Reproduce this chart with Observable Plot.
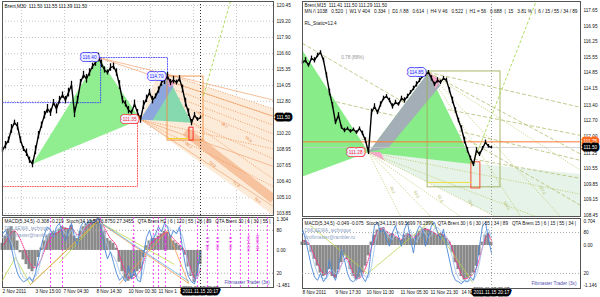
<!DOCTYPE html>
<html><head><meta charset="utf-8">
<script src="https://cdn.jsdelivr.net/npm/d3@7"></script>
<script src="https://cdn.jsdelivr.net/npm/@observablehq/plot@0.6"></script>
<style>
body{margin:0;background:#fff;}
#wrap{position:relative;width:600px;height:297px;overflow:hidden;background:#fff;}
</style></head><body><div id="wrap"></div>
<script>
// ---------------- DATA ----------------
// Left chart: Brent M30 (bar index, price)
const leftClose = [108.9,109.3,109.7,110.6,111.1,110.8,109.7,109.0,108.7,108.1,
 107.8,108.9,110.1,110.9,111.7,112.2,111.9,112.7,112.2,112.9,
 113.3,112.9,113.5,114.1,111.9,112.9,114.3,114.9,114.6,115.1,
 115.6,115.9,116.3,115.8,115.3,115.1,115.5,115.6,115.1,114.1,
 112.9,112.6,112.1,111.9,112.6,111.9,111.35,112.5,113.0,113.5,
 112.9,113.2,113.7,114.3,114.5,114.8,114.3,114.5,114.3,114.6,
 113.8,112.7,111.9,111.1,111.7,111.35,111.5];
const leftRange = [0.2,0.3,0.25,0.35,0.2,0.3,0.25,0.2,0.3,0.25,0.3,0.35,0.3,0.25,0.3,0.35,0.3,0.25,0.4,0.3,
 0.25,0.3,0.35,0.3,0.4,0.3,0.25,0.3,0.35,0.3,0.25,0.3,0.35,0.3,0.25,0.2,0.3,0.25,0.3,0.35,
 0.3,0.25,0.3,0.2,0.3,0.25,0.3,0.35,0.3,0.25,0.3,0.2,0.25,0.3,0.35,0.3,0.25,0.3,0.2,0.25,
 0.3,0.35,0.3,0.25,0.2,0.15,0.1];
const leftHist = [0.3,0.6,0.9,1.0,0.8,0.4,-0.1,-0.4,-0.6,-0.8,-0.9,-0.7,-0.3,0.1,0.4,0.6,
 0.7,0.8,0.75,0.9,1.0,0.95,0.9,1.05,0.6,0.5,0.8,1.0,1.1,1.2,1.25,1.3,1.35,
 1.1,0.8,0.5,0.4,0.3,0.1,-0.5,-0.9,-1.2,-1.3,-1.2,-1.1,-0.9,-0.8,
 -0.3,0.2,0.4,0.5,0.5,0.6,0.7,0.8,0.75,0.6,0.4,0.3,0.2,0.1,-0.2,-0.7,-1.1,-1.35,-1.1,-0.6];
const leftSignal = [0.2,0.35,0.55,0.75,0.85,0.7,0.45,0.15,-0.2,-0.5,-0.7,-0.75,-0.6,-0.35,0.0,0.3,0.5,0.65,0.72,0.8,
 0.9,0.93,0.92,0.98,0.8,0.65,0.7,0.85,1.0,1.1,1.18,1.25,1.3,1.2,0.95,0.7,0.5,0.38,0.2,-0.2,
 -0.6,-0.95,-1.15,-1.2,-1.15,-1.0,-0.85,-0.5,-0.1,0.2,0.4,0.48,0.55,0.65,0.75,0.75,0.65,0.5,0.35,0.25,
 0.12,-0.1,-0.45,-0.85,-1.2,-1.15,-0.8];
const leftStoch = [75,80,70,55,35,20,12,8,10,15,8,20,40,60,75,85,80,70,85,90,75,65,80,90,70,60,85,92,88,95,
 90,93,97,80,55,40,50,35,20,10,15,8,30,12,25,10,8,45,70,80,65,75,85,78,90,85,70,80,75,85,55,30,15,8,5,25,50];
const leftStochSig = [70,74,72,63,50,35,22,14,11,12,11,15,25,42,58,72,80,77,78,84,82,75,73,80,78,70,72,82,88,90,
 92,92,94,90,75,58,48,44,35,22,15,12,18,17,22,16,12,22,45,65,72,73,78,80,83,86,82,78,77,80,72,52,32,18,10,14,30];
const leftTicks = [120.45,119.20,117.90,116.60,115.35,114.05,112.80,110.20,108.95,107.65,106.40,105.10,103.85];
const leftGridX = [6.3,20.7,35,49.3,63.7,78];
const leftMacdTicks = [1.304,0,-1.481];
const stochTicks = [80,20];
const leftDates = [{i:0,t:"2 Nov 2011"},{i:11,t:"3 Nov 15:00"},{i:20.3,t:"7 Nov 04:30"},{i:31.3,t:"8 Nov 14:30"},{i:42,t:"10 Nov 00:30"},{i:52,t:"11 Nov 1"}];
const leftHeader = "Brent,M30  111.50 111.55 111.39 111.50";
const leftMacdHeader = "MACD(5,34,5) -0.308 -0.219  Stoch(34,13,5) 76.8750 27.3455   QTA Brent H2 | 6 | 120 | 55 | 26 | 89   QTA Brent 30 | 6 | 30 | 55 |";
// pattern points
const leftXAB = [{i:10,p:107.8},{i:32,p:116.3},{i:46,p:111.35}];
const leftBCD = [{i:46,p:111.35},{i:55,p:114.8},{i:63,p:111.1}];
const leftBCv = [{i:46,p:111.35},{i:55,p:114.8},{i:57,p:114.0},{i:50,p:111.3}];
const leftCpink = [{i:55,p:114.8},{i:57.5,p:114.2},{i:55.5,p:113.9}];
const leftTags = [{i:32,p:116.3,t:"116.40",dx:-2,c:"#2828ff"},{i:55,p:114.8,t:"114.70",dx:-4,c:"#2828ff"},{i:46,p:111.35,t:"111.35",dx:-4,c:"#ff2828"}];
const leftBlueProj1 = [{i:32,p:116.3},{i:55,p:116.3},{i:55,p:114.8}];
const leftBlueProj2 = [{i:0,p:112.7},{i:32.7,p:112.7},{i:32.7,p:116.3}];
const leftRedProj = [{i:0,p:106.0},{i:45,p:106.0},{i:45,p:111.2}];
const leftFanSolid = [{i1:32,p1:116.3,i2:90.33,p2:112.9},{i1:32,p1:116.3,i2:90.33,p2:111.6},
 {i1:46,p1:111.35,i2:90.33,p2:104.4},{i1:46,p1:111.35,i2:90.33,p2:107.6}];
const leftFanDotted = [{i1:52,p1:115.2,i2:90.33,p2:112.2},{i1:53,p1:114.6,i2:90.33,p2:111.6},{i1:54,p1:114.0,i2:90.33,p2:110.9},
 {i1:55,p1:113.4,i2:90.33,p2:110.2},{i1:56,p1:112.8,i2:90.33,p2:109.5},{i1:46,p1:111.35,i2:90.33,p2:106.0},
 {i1:46,p1:111.35,i2:90.33,p2:109.0},{i1:63,p1:111.1,i2:90.33,p2:106.6},{i1:63,p1:111.1,i2:90.33,p2:108.2}];
const leftBand = [{i1:61,p1:110.4,i2:90.33,p2:105.0}];
const leftPale = [{i:52,p:115.2},{i:90.33,p:112.2},{i:90.33,p:103.7},{i:46,p:111.35}];
const leftFibText = [{i:62,p:109.3,t:"38.2"},{i:70,p:107.8,t:"50.0"},{i:78,p:106.2,t:"61.8"},{i:85,p:104.9,t:"78.6"},
 {i:66,p:111.8,t:"23.6"},{i:74,p:110.9,t:"38.2"},{i:82,p:109.8,t:"50.0"}];
const leftOrangeBox = [{i1:55,i2:67,p1:109.67,p2:114.78}];
const leftRedBox = [{i1:62.3,i2:63.7,p1:109.67,p2:110.7}];
const leftYellow = [{i1:55,p1:109.83,i2:62,p2:109.83}];
const leftGreenRise = [{i1:67,p1:113.27,i2:76,p2:120.8}];
const leftMagenta = [16,20,32.7,43.7,50.3,52,54.3,59.3,65,68.3,71.7,76,79.3,82,85,88.3];
const leftMagLabels = [{i:43.7,t:"H1 1.0"},{i:54.3,t:"H1 2000"},{i:68.3,t:"H1 1.5"},{i:71.7,t:"H4 1.6"},{i:76,t:"H4 1.0"},{i:82,t:"H1 1.5%"},{i:85,t:"H4 2000"}];
const leftZzGreen = [{i:0,s:10},{i:4.3,s:42},{i:9.3,s:4},{i:31.7,s:93},{i:57,s:33}];
const leftZzGreen2 = [{i:19,s:35},{i:31.7,s:93}];
const leftZzOrange1 = [{i:9.3,s:4},{i:31.7,s:93},{i:62,s:6}];
const leftZzOrange2 = [{i:39,s:5},{i:55,s:80},{i:62,s:6}];
const leftZzBlue = [{i:32.3,s:92},{i:62,s:9}];

// Right chart: Brent M15
const rightClose = [115.32,115.41,115.18,115.50,115.41,115.63,115.76,115.41,114.73,113.97,
 113.39,112.62,112.94,112.40,112.26,112.35,112.22,112.31,112.17,112.35,
 112.13,111.81,111.28,113.07,113.34,113.07,113.43,113.70,113.79,113.61,
 113.34,113.52,113.43,113.70,113.61,113.79,113.97,114.15,114.33,114.51,
 114.69,114.78,114.87,114.60,114.33,114.51,114.42,114.60,114.51,114.06,
 113.61,113.16,112.71,112.35,111.81,111.37,111.01,110.74,111.37,111.19,
 111.46,111.73,111.55,111.50];
const rightRange = [0.1,0.12,0.08,0.1,0.12,0.1,0.08,0.1,0.12,0.15,0.12,0.1,0.12,0.08,0.1,0.06,0.08,0.06,0.08,0.07,
 0.1,0.12,0.1,0.15,0.12,0.1,0.12,0.1,0.08,0.1,0.12,0.1,0.08,0.1,0.12,0.1,0.08,0.1,0.12,0.1,
 0.08,0.1,0.08,0.12,0.1,0.12,0.1,0.08,0.1,0.12,0.15,0.12,0.1,0.12,0.15,0.12,0.1,0.1,0.12,0.1,
 0.08,0.1,0.08,0.06];
const rightHist = [0.1,0.15,0.05,-0.2,-0.4,-0.6,-0.8,-0.9,-0.85,-0.7,-0.9,-0.95,-0.7,-0.5,-0.3,
 -0.4,-0.7,-0.9,-1.0,-0.95,-0.8,-0.6,-0.3,0.1,0.3,0.45,0.5,0.52,0.4,0.3,0.35,0.25,0.2,
 0.15,0.3,0.35,0.3,0.2,0.3,0.4,0.45,0.5,0.45,0.4,0.35,0.3,0.35,0.3,0.2,0.1,
 -0.2,-0.5,-0.7,-0.9,-1.0,-0.95,-0.9,-0.8,-0.6,-0.3,0.1,0.3,0.35,0.1];
const rightSignal = [0.15,0.12,0.08,-0.1,-0.3,-0.5,-0.7,-0.82,-0.85,-0.75,-0.85,-0.9,-0.75,-0.55,-0.38,-0.38,-0.6,-0.82,-0.95,-0.95,
 -0.85,-0.65,-0.4,-0.05,0.22,0.4,0.48,0.5,0.42,0.32,0.33,0.27,0.22,0.17,0.26,0.33,0.3,0.22,0.28,0.37,
 0.43,0.48,0.46,0.41,0.36,0.31,0.33,0.31,0.22,0.12,-0.1,-0.4,-0.62,-0.85,-0.97,-0.95,-0.9,-0.82,-0.65,-0.38,
 -0.05,0.22,0.32,0.15];
const rightStoch = [85,70,50,30,15,10,20,8,15,40,20,10,30,55,40,20,10,8,12,30,15,8,20,60,90,95,80,85,70,60,
 80,90,75,60,85,95,70,50,80,90,85,60,75,90,95,80,70,85,60,40,20,10,8,5,10,8,15,10,30,60,90,95,70,50];
const rightStochSig = [80,78,68,50,33,20,15,13,12,22,25,20,20,32,42,38,25,14,10,15,19,16,14,30,58,80,88,86,80,72,
 70,78,82,75,72,80,84,72,66,75,85,78,72,76,86,88,82,78,74,62,42,24,13,8,8,8,10,11,18,35,60,82,85,72];
const rightTicks = [117.65,116.95,116.25,115.55,114.85,114.15,113.40,112.70,112.00,111.25,110.55,109.85,109.15,108.45];
const rightLevel = 111.75;
const rightMacdTicks = [0.704,0,-1.146];
const rightDates = [{i:0,t:"8 Nov 2011"},{i:11,t:"9 Nov 17:30"},{i:21.3,t:"10 Nov 11:30"},{i:32.7,t:"11 Nov 05:30"},{i:42.7,t:"11 Nov 21:30"},{i:53,t:"14 N"}];
const rightHeader1 = "Brent,M15  111.41 111.50 111.29 111.50";
const rightHeader2 = "MN /\\ 1038   0.520  |  W1 V 404   0.334  |  D1 /\\ 88   0.614  |  H4 V 46   0.522  |  H1 = 56   0.688  |  15   3.81 %  |  6 / 15 / 55 / 34 / 89";
const rightStatic = "RL_Static=12.4";
const rightMacdHeader = "MACD(5,34,5) -0.049 -0.075  Stoch(34,13,5) 69.5699 76.2899   QTA Brent 30 | 6 | 30 | 55 | 34 | 89   QTA Brent 15 | 6 | 15 | 55 | 34 |";
const rightTri1 = [{i:0,p:115.85},{i:22,p:111.28},{i:0,p:110.2}];
const rightTri2 = [{i:22,p:111.28},{i:42,p:114.87},{i:57,p:110.74}];
const rightGrey = [{i:22,p:111.28},{i:28.7,p:111.5},{i:46,p:114.28},{i:42,p:114.87}];
const rightPinkB = [{i:22,p:111.28},{i:27.3,p:110.92},{i:26,p:111.3}];
const rightPinkC = [{i:42,p:114.87},{i:46,p:114.51},{i:44.3,p:114.15}];
const rightTags = [{i:42,p:114.87,t:"114.85",dx:-5,c:"#2828ff"},{i:22,p:111.28,t:"111.28",dx:-6,c:"#ff2828"}];
const rightFanDash = [{i1:0,p1:116.17,i2:92.7,p2:108.9},{i1:0,p1:112.35,i2:92.7,p2:110.11},{i1:9.3,p1:113.61,i2:92.7,p2:110.92},
 {i1:32.7,p1:113.61,i2:92.7,p2:112.04},{i1:42,p1:114.87,i2:92.7,p2:113.3},{i1:42,p1:114.87,i2:92.7,p2:111.2}];
const rightFanDot = [{i1:22,p1:111.28,i2:32.7,p2:108.4},{i1:22,p1:111.28,i2:42.7,p2:108.4},{i1:22,p1:111.28,i2:52.7,p2:108.4},
 {i1:22,p1:111.28,i2:64.3,p2:108.4},{i1:22,p1:111.28,i2:77.7,p2:108.4},{i1:22,p1:111.28,i2:92.7,p2:109.4},
 {i1:42,p1:114.87,i2:72.7,p2:108.4},{i1:42,p1:114.87,i2:86,p2:108.4},{i1:42,p1:114.87,i2:92.7,p2:110.47}];
const rightPale = [{i:22,p:111.28},{i:92.7,p:110.3},{i:92.7,p:108.4},{i:64.3,p:108.4}];
const rightFibText = [{i:30,p:109.6,t:"38.2"},{i:38,p:109.4,t:"50.0"},{i:46,p:109.2,t:"61.8"},{i:56,p:109.0,t:"78.6"},{i:68,p:108.9,t:"100.0"},{i:80,p:109.6,t:"127.2"}];
const rightRatio = [{i:16.7,p:115.54,t:"0.78 (88%)"}];
const rightOliveBox = [{i1:41.7,i2:66,p1:109.71,p2:114.91}];
const rightRedBox = [{i1:56.3,i2:59.3,p1:109.66,p2:110.83}];
const rightYellow = [{i1:41.7,p1:109.93,i2:56.3,p2:109.93}];
const rightGreenRise = [{i1:56.7,p1:110.74,i2:78,p2:118.1}];
const rightZz = [{i:2.7,s:90},{i:21.7,s:20},{i:42.7,s:97},{i:56.7,s:7}];

const timeNow = "2011.11.15 20:17";
const credit1 = "DML&EWA_technique";
const credit2 = "profitmaster@rambler.ru";
const trader = "Fibmaster Trader (3x)";

// ---------------- RENDER ----------------
const FONT = "'Liberation Sans', Arial, sans-serif";
const wrap = document.getElementById("wrap");
function mk(opts, left, top) {
  const svg = Plot.plot({...opts, style:{background:"transparent", overflow:"visible", fontFamily:FONT, fontSize:"5px", color:"#111"}});
  svg.style.position = "absolute"; svg.style.left = left+"px"; svg.style.top = top+"px";
  wrap.appendChild(svg);
}
const idx = a => a.map((v,i)=>({i,v}));
const bars = (c,r) => c.map((v,i)=>({i,v,r:r[i]}));
const L = {x1:"i1",y1:"p1",x2:"i2",y2:"p2"};
const P = {x:"i",y:"p"};
const FS = 4.7;

function tagLayer(tags){
  return tags.flatMap(t=>[
    Plot.text([t],{...P,text:"t",dx:t.dx,textAnchor:"end",fontSize:FS,fill:t.c,stroke:t.c,strokeWidth:6.2,strokeLinejoin:"miter",strokeMiterlimit:1,paintOrder:"stroke"}),
    Plot.text([t],{...P,text:"t",dx:t.dx,textAnchor:"end",fontSize:FS,fill:t.c,stroke:"#eef0ff",strokeWidth:4.6,strokeLinejoin:"miter",strokeMiterlimit:1,paintOrder:"stroke"})
  ]);
}
const priceBars = (c,r) => [
  Plot.ruleX(bars(c,r),{x:"i",y1:d=>d.v-d.r,y2:d=>d.v+d.r,stroke:"#000",strokeWidth:1.3}),
  Plot.line(idx(c),{x:"i",y:"v",stroke:"#000",strokeWidth:1.4})
];

// ---- Left price ----
const LXD=[0,90.33];
mk({width:300,height:216,marginLeft:2,marginRight:27,marginTop:1,marginBottom:1,
 x:{domain:LXD,axis:null}, y:{domain:[103.69,120.77],axis:null},
 marks:[
  Plot.ruleY(leftTicks,{stroke:"#c4c4c4",strokeDasharray:"1,2"}),
  Plot.ruleX(leftGridX,{stroke:"#c4c4c4",strokeDasharray:"1,2"}),
  Plot.line(leftPale,{...P,fill:"#fdebd9",stroke:"none",clip:true}),
  Plot.link(leftBand,{...L,stroke:"#f6c39e",strokeWidth:9,strokeLinecap:"butt",clip:true}),
  Plot.link(leftFanSolid,{...L,stroke:"#f3ae80",strokeWidth:0.8,clip:true}),
  Plot.link(leftFanDotted,{...L,stroke:"#ef8a45",strokeWidth:0.8,strokeDasharray:"1,1.5",clip:true}),
  Plot.text(leftFibText,{...P,text:"t",rotate:40,fill:"#e5813a",fontSize:3.8}),
  Plot.line(leftXAB,{...P,fill:"#90ee90",stroke:"none"}),
  Plot.line(leftBCD,{...P,fill:"#86d8ae",stroke:"none"}),
  Plot.line(leftBCv,{...P,fill:"#8e9fe6",fillOpacity:0.85,stroke:"none"}),
  Plot.line(leftCpink,{...P,fill:"#f2a3c6",stroke:"none"}),
  Plot.line(leftBlueProj1,{...P,stroke:"#3030ff",strokeWidth:0.8,strokeDasharray:"1,1.5"}),
  Plot.line(leftBlueProj2,{...P,stroke:"#3030ff",strokeWidth:0.8,strokeDasharray:"1,1.5"}),
  Plot.line(leftRedProj,{...P,stroke:"#ff3030",strokeWidth:0.8,strokeDasharray:"1,1.5"}),
  Plot.rect(leftOrangeBox,{x1:"i1",x2:"i2",y1:"p1",y2:"p2",stroke:"#f09040",fill:"none",strokeWidth:0.9}),
  Plot.rect(leftRedBox,{x1:"i1",x2:"i2",y1:"p1",y2:"p2",stroke:"#ff2020",fill:"none",strokeWidth:0.9}),
  Plot.link(leftYellow,{...L,stroke:"#f2d21e",strokeWidth:1}),
  Plot.link(leftGreenRise,{...L,stroke:"#a5d84a",strokeWidth:0.9,strokeDasharray:"3,2",clip:true}),
  ...priceBars(leftClose,leftRange),
  Plot.ruleX([leftClose.length-1],{stroke:"#333",strokeDasharray:"1,2"}),
  ...tagLayer(leftTags),
  Plot.text(leftTicks,{y:d=>d,text:d=>d.toFixed(2),frameAnchor:"right",dx:3,textAnchor:"start",fontSize:FS,fill:"#111"}),
  Plot.text([leftClose[leftClose.length-1]],{y:d=>d,text:d=>d.toFixed(2),frameAnchor:"right",dx:3,textAnchor:"start",fontSize:FS,fill:"#fff",stroke:"#000",strokeWidth:5,strokeLinejoin:"miter",strokeMiterlimit:1}),
  Plot.frame({stroke:"#555"}),
  Plot.text([leftHeader],{frameAnchor:"top-left",dx:2,dy:3,text:d=>d,fontSize:FS,fill:"#111",lineAnchor:"top"})
 ]},0,0);

// ---- Left MACD ----
const LMY=[-1.565,1.39];
mk({width:300,height:82,marginLeft:2,marginRight:27,marginTop:2,marginBottom:10,
 x:{domain:LXD,axis:null}, y:{domain:LMY,axis:null},
 marks:[
  Plot.rect(idx(leftHist),{x1:d=>d.i-0.5,x2:d=>d.i+0.5,y1:d=>0,y2:"v",fill:"#8a8a8a"}),
  Plot.line(idx(leftSignal),{x:"i",y:"v",stroke:"#ff2a8a",strokeWidth:1,strokeDasharray:"1,1.3"}),
  Plot.text(leftMacdTicks,{y:d=>d,text:d=>d===0?"0.00":d.toFixed(3),frameAnchor:"right",dx:3,textAnchor:"start",fontSize:FS,fill:"#111"}),
  Plot.text(leftDates,{x:"i",text:"t",frameAnchor:"bottom",dy:5.5,textAnchor:"start",fontSize:FS,fill:"#111"}),
  Plot.text([timeNow],{x:()=>leftClose.length-1,text:d=>d,frameAnchor:"bottom",dy:5.5,fontSize:FS,fill:"#fff",stroke:"#000",strokeWidth:5,strokeLinejoin:"miter",strokeMiterlimit:1}),
  Plot.frame({stroke:"#555"})
 ]},0,215);
// stoch overlay
mk({width:300,height:82,marginLeft:2,marginRight:27,marginTop:2,marginBottom:10,
 x:{domain:LXD,axis:null}, y:{domain:[0,98],axis:null},
 marks:[
  Plot.ruleY(stochTicks,{stroke:"#aaa",strokeDasharray:"1,2"}),
  Plot.ruleX(leftMagenta,{stroke:"#f020f0",strokeWidth:0.8,strokeDasharray:"2,2"}),
  Plot.line(leftZzGreen,{x:"i",y:"s",stroke:"#b9d64a",strokeWidth:0.8}),
  Plot.line(leftZzGreen2,{x:"i",y:"s",stroke:"#b9d64a",strokeWidth:0.8}),
  Plot.line(leftZzOrange1,{x:"i",y:"s",stroke:"#f39a4c",strokeWidth:0.8}),
  Plot.line(leftZzOrange2,{x:"i",y:"s",stroke:"#f39a4c",strokeWidth:0.8}),
  Plot.line(leftZzBlue,{x:"i",y:"s",stroke:"#5fb0e8",strokeWidth:0.8}),
  Plot.line(idx(leftStochSig),{x:"i",y:"v",stroke:"#a8c8ec",strokeWidth:0.9}),
  Plot.line(idx(leftStoch),{x:"i",y:"v",stroke:"#4a86d6",strokeWidth:0.9}),
  Plot.text(leftMagLabels,{x:"i",y:()=>62,text:"t",rotate:-90,fill:"#e010e0",fontSize:4.3}),
  Plot.ruleX([leftClose.length-1],{stroke:"#333",strokeDasharray:"1,2"}),
  Plot.text(stochTicks,{y:d=>d,text:d=>String(d),frameAnchor:"right",dx:3,textAnchor:"start",fontSize:FS,fill:"#111"}),
  Plot.text([leftMacdHeader],{frameAnchor:"top-left",dx:2,dy:2,text:d=>d,fontSize:FS,fill:"#111",lineAnchor:"top"}),
  Plot.text([credit1],{frameAnchor:"top-left",dx:2,dy:9,text:d=>d,fontSize:FS,fill:"#8aa0c4",lineAnchor:"top"}),
  Plot.text([credit2],{frameAnchor:"top-left",dx:2,dy:16,text:d=>d,fontSize:FS,fill:"#8aa0c4",lineAnchor:"top"}),
  Plot.text([trader],{frameAnchor:"bottom-right",dx:-4,dy:-4,text:d=>d,fontSize:FS,fill:"#5050b0",textAnchor:"end"})
 ]},0,215);

// ---- Right price ----
const RXD=[0,92.67];
mk({width:300,height:217,marginLeft:2,marginRight:20,marginTop:1,marginBottom:1,
 x:{domain:RXD,axis:null}, y:{domain:[108.40,118.05],axis:null},
 marks:[
  Plot.line(rightPale,{...P,fill:"#e6f3e8",stroke:"none",clip:true}),
  Plot.link(rightFanDash,{...L,stroke:"#b5bd70",strokeWidth:0.8,strokeDasharray:"4,2",clip:true}),
  Plot.link(rightFanDot,{...L,stroke:"#b8c45a",strokeWidth:0.8,strokeDasharray:"1,1.5",clip:true}),
  Plot.text(rightFibText,{...P,text:"t",rotate:62,fill:"#a8b450",fontSize:3.8}),
  Plot.line(rightTri1,{...P,fill:"#88ec88",stroke:"none"}),
  Plot.line(rightTri2,{...P,fill:"#88ec88",stroke:"none"}),
  Plot.line(rightGrey,{...P,fill:"#a3aeb6",stroke:"none"}),
  Plot.line(rightPinkB,{...P,fill:"#f3a8c8",stroke:"none"}),
  Plot.line(rightPinkC,{...P,fill:"#f3a8c8",stroke:"none"}),
  Plot.rect(rightOliveBox,{x1:"i1",x2:"i2",y1:"p1",y2:"p2",stroke:"#9fae5c",fill:"none",strokeWidth:0.9}),
  Plot.rect(rightRedBox,{x1:"i1",x2:"i2",y1:"p1",y2:"p2",stroke:"#ff3a20",fill:"none",strokeWidth:0.9}),
  Plot.link(rightYellow,{...L,stroke:"#f0e03a",strokeWidth:1}),
  Plot.ruleY([rightLevel],{stroke:"#ff7a35",strokeWidth:1}),
  Plot.ruleY([rightClose[rightClose.length-1]],{stroke:"#c8c8c8",strokeWidth:0.8}),
  Plot.link(rightGreenRise,{...L,stroke:"#a5d84a",strokeWidth:0.9,strokeDasharray:"3,2",clip:true}),
  ...priceBars(rightClose,rightRange),
  Plot.ruleX([rightClose.length-1],{stroke:"#999",strokeDasharray:"1,2"}),
  Plot.text(rightRatio,{...P,text:"t",fill:"#999",fontSize:FS}),
  ...tagLayer(rightTags),
  Plot.text(rightTicks,{y:d=>d,text:d=>d.toFixed(2),frameAnchor:"right",dx:3,textAnchor:"start",fontSize:FS,fill:"#111"}),
  Plot.text([rightLevel],{y:d=>d,text:d=>d.toFixed(2),frameAnchor:"right",dx:3,textAnchor:"start",fontSize:FS,fill:"#fff",stroke:"#ff6a20",strokeWidth:5,strokeLinejoin:"miter",strokeMiterlimit:1}),
  Plot.text([rightClose[rightClose.length-1]],{y:d=>d,text:d=>d.toFixed(2),frameAnchor:"right",dx:3,textAnchor:"start",fontSize:FS,fill:"#fff",stroke:"#000",strokeWidth:5,strokeLinejoin:"miter",strokeMiterlimit:1}),
  Plot.frame({stroke:"#555"}),
  Plot.text([rightHeader1],{frameAnchor:"top-left",dx:2,dy:2.5,text:d=>d,fontSize:FS,fill:"#111",lineAnchor:"top"}),
  Plot.text([rightHeader2],{frameAnchor:"top-left",dx:2,dy:8,text:d=>d,fontSize:FS,fill:"#111",lineAnchor:"top"}),
  Plot.text([rightStatic],{frameAnchor:"top-left",dx:2,dy:20,text:d=>d,fontSize:FS,fill:"#111",lineAnchor:"top"})
 ]},300,0);

// ---- Right MACD ----
mk({width:300,height:80,marginLeft:2,marginRight:20,marginTop:1,marginBottom:9,
 x:{domain:RXD,axis:null}, y:{domain:[-1.246,0.783],axis:null},
 marks:[
  Plot.rect(idx(rightHist),{x1:d=>d.i-0.5,x2:d=>d.i+0.5,y1:d=>0,y2:"v",fill:"#8a8a8a"}),
  Plot.line(idx(rightSignal),{x:"i",y:"v",stroke:"#ff2a8a",strokeWidth:1,strokeDasharray:"1,1.3"}),
  Plot.text(rightMacdTicks,{y:d=>d,text:d=>d===0?"0.00":d.toFixed(3),frameAnchor:"right",dx:3,textAnchor:"start",fontSize:FS,fill:"#111"}),
  Plot.text(rightDates,{x:"i",text:"t",frameAnchor:"bottom",dy:5,textAnchor:"start",fontSize:FS,fill:"#111"}),
  Plot.text([timeNow],{x:()=>rightClose.length-1,text:d=>d,frameAnchor:"bottom",dy:5,fontSize:FS,fill:"#fff",stroke:"#000",strokeWidth:5,strokeLinejoin:"miter",strokeMiterlimit:1}),
  Plot.frame({stroke:"#555"})
 ]},300,217);
mk({width:300,height:80,marginLeft:2,marginRight:20,marginTop:1,marginBottom:9,
 x:{domain:RXD,axis:null}, y:{domain:[-1.9,100.6],axis:null},
 marks:[
  Plot.ruleY(stochTicks,{stroke:"#aaa",strokeDasharray:"1,2"}),
  Plot.line(rightZz,{x:"i",y:"s",stroke:"#b9d64a",strokeWidth:0.8}),
  Plot.line(idx(rightStochSig),{x:"i",y:"v",stroke:"#a8c8ec",strokeWidth:0.9}),
  Plot.line(idx(rightStoch),{x:"i",y:"v",stroke:"#4a86d6",strokeWidth:0.9}),
  Plot.ruleX([rightClose.length-1],{stroke:"#999",strokeDasharray:"1,2"}),
  Plot.text(stochTicks,{y:d=>d,text:d=>String(d),frameAnchor:"right",dx:3,textAnchor:"start",fontSize:FS,fill:"#111"}),
  Plot.text([rightMacdHeader],{frameAnchor:"top-left",dx:2,dy:3,text:d=>d,fontSize:FS,fill:"#111",lineAnchor:"top"}),
  Plot.text([credit1],{frameAnchor:"top-left",dx:2,dy:10,text:d=>d,fontSize:FS,fill:"#8aa0c4",lineAnchor:"top"}),
  Plot.text([credit2],{frameAnchor:"top-left",dx:2,dy:17,text:d=>d,fontSize:FS,fill:"#8aa0c4",lineAnchor:"top"}),
  Plot.text([trader],{frameAnchor:"bottom-right",dx:-4,dy:-4,text:d=>d,fontSize:FS,fill:"#5050b0",textAnchor:"end"})
 ]},300,217);
</script></body></html>
